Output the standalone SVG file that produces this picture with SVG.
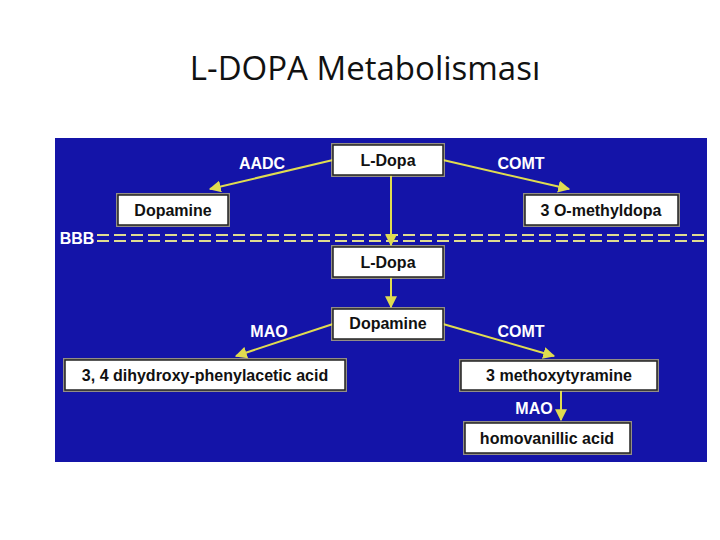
<svg xmlns="http://www.w3.org/2000/svg" width="720" height="540" viewBox="0 0 720 540">
<defs>
<style>
.b{fill:#fff;stroke:#222;stroke-width:1.5}
.g{fill:none;stroke:#e8e070;stroke-width:4;opacity:.6}
.t{font-family:"Liberation Sans",Arial,sans-serif;font-weight:bold;font-size:16px;fill:#111;text-anchor:middle}
.l{font-family:"Liberation Sans",Arial,sans-serif;font-weight:bold;font-size:16px;fill:#fff;text-anchor:middle}
.c{stroke:#e0dc50;stroke-width:2;fill:none;marker-end:url(#a)}
.d{stroke:#e0dc90;stroke-width:2;stroke-dasharray:12,5}
</style>
<marker id="a" viewBox="0 0 10 10" refX="9" refY="5" markerWidth="6" markerHeight="6" orient="auto"><path d="M0,0L10,5L0,10z" fill="#e0dc50"/></marker>
</defs>
<rect width="720" height="540" fill="#fff"/>
<text x="365" y="80" font-family="'Open Sans','Liberation Sans',sans-serif" font-size="33" fill="#111" text-anchor="middle">L-DOPA Metabolisması</text>
<rect x="55" y="138" width="652" height="324" fill="#1414a8"/>
<g id="bbb">
<line class="d" x1="97" y1="235" x2="705" y2="235"/>
<line class="d" x1="97" y1="241" x2="705" y2="241"/>
<text class="l" x="77" y="244" font-size="15">BBB</text>
</g>
<g id="connectors">
<line class="c" x1="333" y1="160" x2="210" y2="189"/>
<line class="c" x1="443" y1="160" x2="569" y2="189"/>
<line class="c" x1="391" y1="175" x2="391" y2="245"/>
<line class="c" x1="391" y1="277" x2="391" y2="307"/>
<line class="c" x1="333" y1="324" x2="236" y2="356"/>
<line class="c" x1="443" y1="324" x2="554" y2="356"/>
<line class="c" x1="561" y1="390" x2="561" y2="420"/>
<text class="l" x="262" y="169">AADC</text>
<text class="l" x="521" y="169">COMT</text>
<text class="l" x="269" y="337">MAO</text>
<text class="l" x="521" y="337">COMT</text>
<text class="l" x="534" y="414">MAO</text>
</g>
<g id="n1"><rect class="g" x="333" y="145" width="110" height="30"/><rect class="b" x="333" y="145" width="110" height="30"/><text class="t" x="388" y="166">L-Dopa</text></g>
<g id="n2"><rect class="g" x="118" y="195" width="110" height="30"/><rect class="b" x="118" y="195" width="110" height="30"/><text class="t" x="173" y="216">Dopamine</text></g>
<g id="n3"><rect class="g" x="525" y="195" width="153" height="30"/><rect class="b" x="525" y="195" width="153" height="30"/><text class="t" x="601" y="216">3 O-methyldopa</text></g>
<g id="n4"><rect class="g" x="333" y="247" width="110" height="30"/><rect class="b" x="333" y="247" width="110" height="30"/><text class="t" x="388" y="268">L-Dopa</text></g>
<g id="n5"><rect class="g" x="333" y="309" width="110" height="30"/><rect class="b" x="333" y="309" width="110" height="30"/><text class="t" x="388" y="329">Dopamine</text></g>
<g id="n6"><rect class="g" x="65" y="360" width="280" height="30"/><rect class="b" x="65" y="360" width="280" height="30"/><text class="t" x="205" y="381">3, 4 dihydroxy-phenylacetic acid</text></g>
<g id="n7"><rect class="g" x="461" y="361" width="196" height="29"/><rect class="b" x="461" y="361" width="196" height="29"/><text class="t" x="559" y="381">3 methoxytyramine</text></g>
<g id="n8"><rect class="g" x="465" y="423" width="165" height="30"/><rect class="b" x="465" y="423" width="165" height="30"/><text class="t" x="547" y="444">homovanillic acid</text></g>
</svg>
